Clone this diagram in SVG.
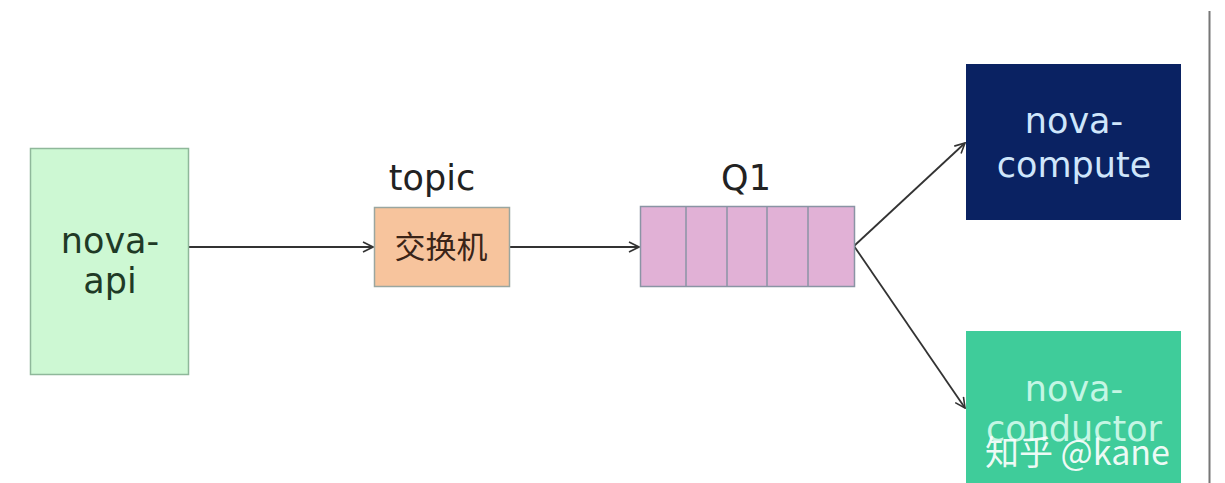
<svg xmlns="http://www.w3.org/2000/svg" width="1225" height="483" viewBox="0 0 1225 483">
<defs>
<style>
.lbl{font-family:"DejaVu Sans","Noto Sans CJK SC",sans-serif;font-size:35px;text-anchor:middle}
.conn{stroke:#333;stroke-width:1.8;fill:none}
</style>
<marker id="arr" viewBox="0 0 12 12" refX="11" refY="6" markerWidth="12" markerHeight="12" markerUnits="userSpaceOnUse" orient="auto">
<path d="M1,1 L11,6 L1,11" fill="none" stroke="#333" stroke-width="1.6"/>
</marker>
</defs>
<rect width="1225" height="483" fill="#ffffff"/>
<line x1="1209.5" y1="11" x2="1209.5" y2="483" stroke="#777" stroke-width="2"/>
<g id="connectors">
<line class="conn" x1="188" y1="247" x2="373" y2="247" marker-end="url(#arr)"/>
<line class="conn" x1="510" y1="247" x2="639" y2="247" marker-end="url(#arr)"/>
<line class="conn" x1="854" y1="246" x2="965" y2="143" marker-end="url(#arr)"/>
<line class="conn" x1="854" y1="246" x2="965" y2="408" marker-end="url(#arr)"/>
</g>
<g id="nova-api">
<rect x="30.5" y="148.5" width="158" height="226" fill="#cdf8d3" stroke="#8fb89a" stroke-width="1.5"/>
<text class="lbl" x="110" y="253" fill="#1f3a26">nova-</text>
<text class="lbl" x="110" y="293" fill="#1f3a26">api</text>
</g>
<g id="exchange">
<text class="lbl" x="432" y="190" fill="#222">topic</text>
<rect x="374.5" y="207.5" width="135" height="79" fill="#f7c49d" stroke="#9aa6a0" stroke-width="1.5"/>
<text class="lbl" x="441" y="258" fill="#3a2418" style="font-size:31px">交换机</text>
</g>
<g id="queue">
<text class="lbl" x="746" y="190" fill="#222">Q1</text>
<rect x="640.5" y="206.5" width="214" height="80" fill="#e1b1d6" stroke="#8a94a4" stroke-width="1.5"/>
<line x1="686" y1="206.5" x2="686" y2="286.5" stroke="#8a94a4" stroke-width="1.5"/>
<line x1="727" y1="206.5" x2="727" y2="286.5" stroke="#8a94a4" stroke-width="1.5"/>
<line x1="767" y1="206.5" x2="767" y2="286.5" stroke="#8a94a4" stroke-width="1.5"/>
<line x1="808" y1="206.5" x2="808" y2="286.5" stroke="#8a94a4" stroke-width="1.5"/>
</g>
<g id="nova-compute">
<rect x="966" y="64" width="215" height="156" fill="#0a2262"/>
<text class="lbl" x="1074" y="133" fill="#cfe6fb">nova-</text>
<text class="lbl" x="1074" y="177" fill="#cfe6fb">compute</text>
</g>
<g id="nova-conductor">
<rect x="966" y="331" width="215" height="152" fill="#3fcc9a"/>
<text class="lbl" x="1074" y="401" fill="#c4f6e4">nova-</text>
<text class="lbl" x="1074" y="441" fill="#c4f6e4">conductor</text>
</g>
<text x="985" y="465" fill="#ffffff" fill-opacity="0.92" style="font-family:'Noto Sans CJK SC','DejaVu Sans',sans-serif;font-size:34px">知乎 @kane</text>
</svg>
